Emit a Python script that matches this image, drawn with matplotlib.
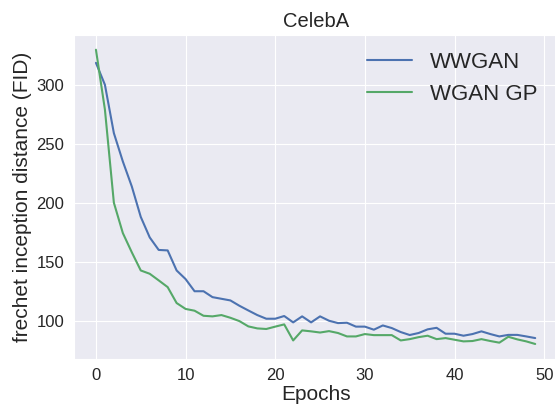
import matplotlib
matplotlib.use("Agg")
import matplotlib.pyplot as plt
import seaborn as sns

epochs = list(range(50))

wwgan = [318.6, 300.0, 259.0, 235.0, 213.8, 188.0, 170.6, 160.0, 159.6, 142.6,
         135.3, 125.0, 125.0, 120.0, 118.6, 117.2, 112.7, 108.7, 104.8, 101.7,
         101.7, 104.0, 98.6, 103.7, 98.6, 103.7, 100.0, 98.0, 98.3, 95.0,
         95.0, 92.4, 96.0, 93.8, 90.4, 87.9, 89.6, 92.7, 94.0, 89.0,
         89.0, 87.3, 88.7, 91.0, 88.7, 86.7, 88.0, 88.0, 86.7, 85.3]

wgan_gp = [329.7, 279.0, 200.0, 174.3, 158.0, 142.6, 139.8, 134.2, 128.5, 115.0,
           110.0, 108.5, 104.2, 103.7, 104.8, 102.5, 99.7, 95.2, 93.5, 93.0,
           95.0, 96.9, 83.3, 91.8, 91.0, 90.0, 91.2, 89.6, 86.7, 86.7,
           88.7, 87.8, 87.8, 87.8, 83.3, 84.4, 86.1, 87.3, 84.4, 85.3,
           83.9, 82.5, 82.8, 84.4, 82.8, 81.4, 86.4, 84.2, 82.5, 80.3]

sns.set_style("darkgrid", {"grid.linewidth": 1.3})
plt.rcParams["font.family"] = ["Liberation Sans", "DejaVu Sans"]

fig = plt.figure(figsize=(5.55, 4.07), dpi=100)
ax = fig.add_axes([0.1333, 0.1187, 0.8706, 0.7953])

ax.plot(epochs, wwgan, color="#4C72B0", lw=1.5, label="WWGAN")
ax.plot(epochs, wgan_gp, color="#55A868", lw=1.5, label="WGAN GP")

ax.set_title("CelebA", fontsize=14.5)
ax.set_xlabel("Epochs", fontsize=15, labelpad=1)
ax.set_ylabel("frechet inception distance (FID)", fontsize=15, labelpad=3)
ax.tick_params(labelsize=12)
ax.set_xticks([0, 10, 20, 30, 40, 50])
ax.set_yticks([100, 150, 200, 250, 300])
ax.legend(loc="upper right", fontsize=16, frameon=False,
          bbox_to_anchor=(1.0, 1.01))

fig.savefig("out.png", dpi=100)
